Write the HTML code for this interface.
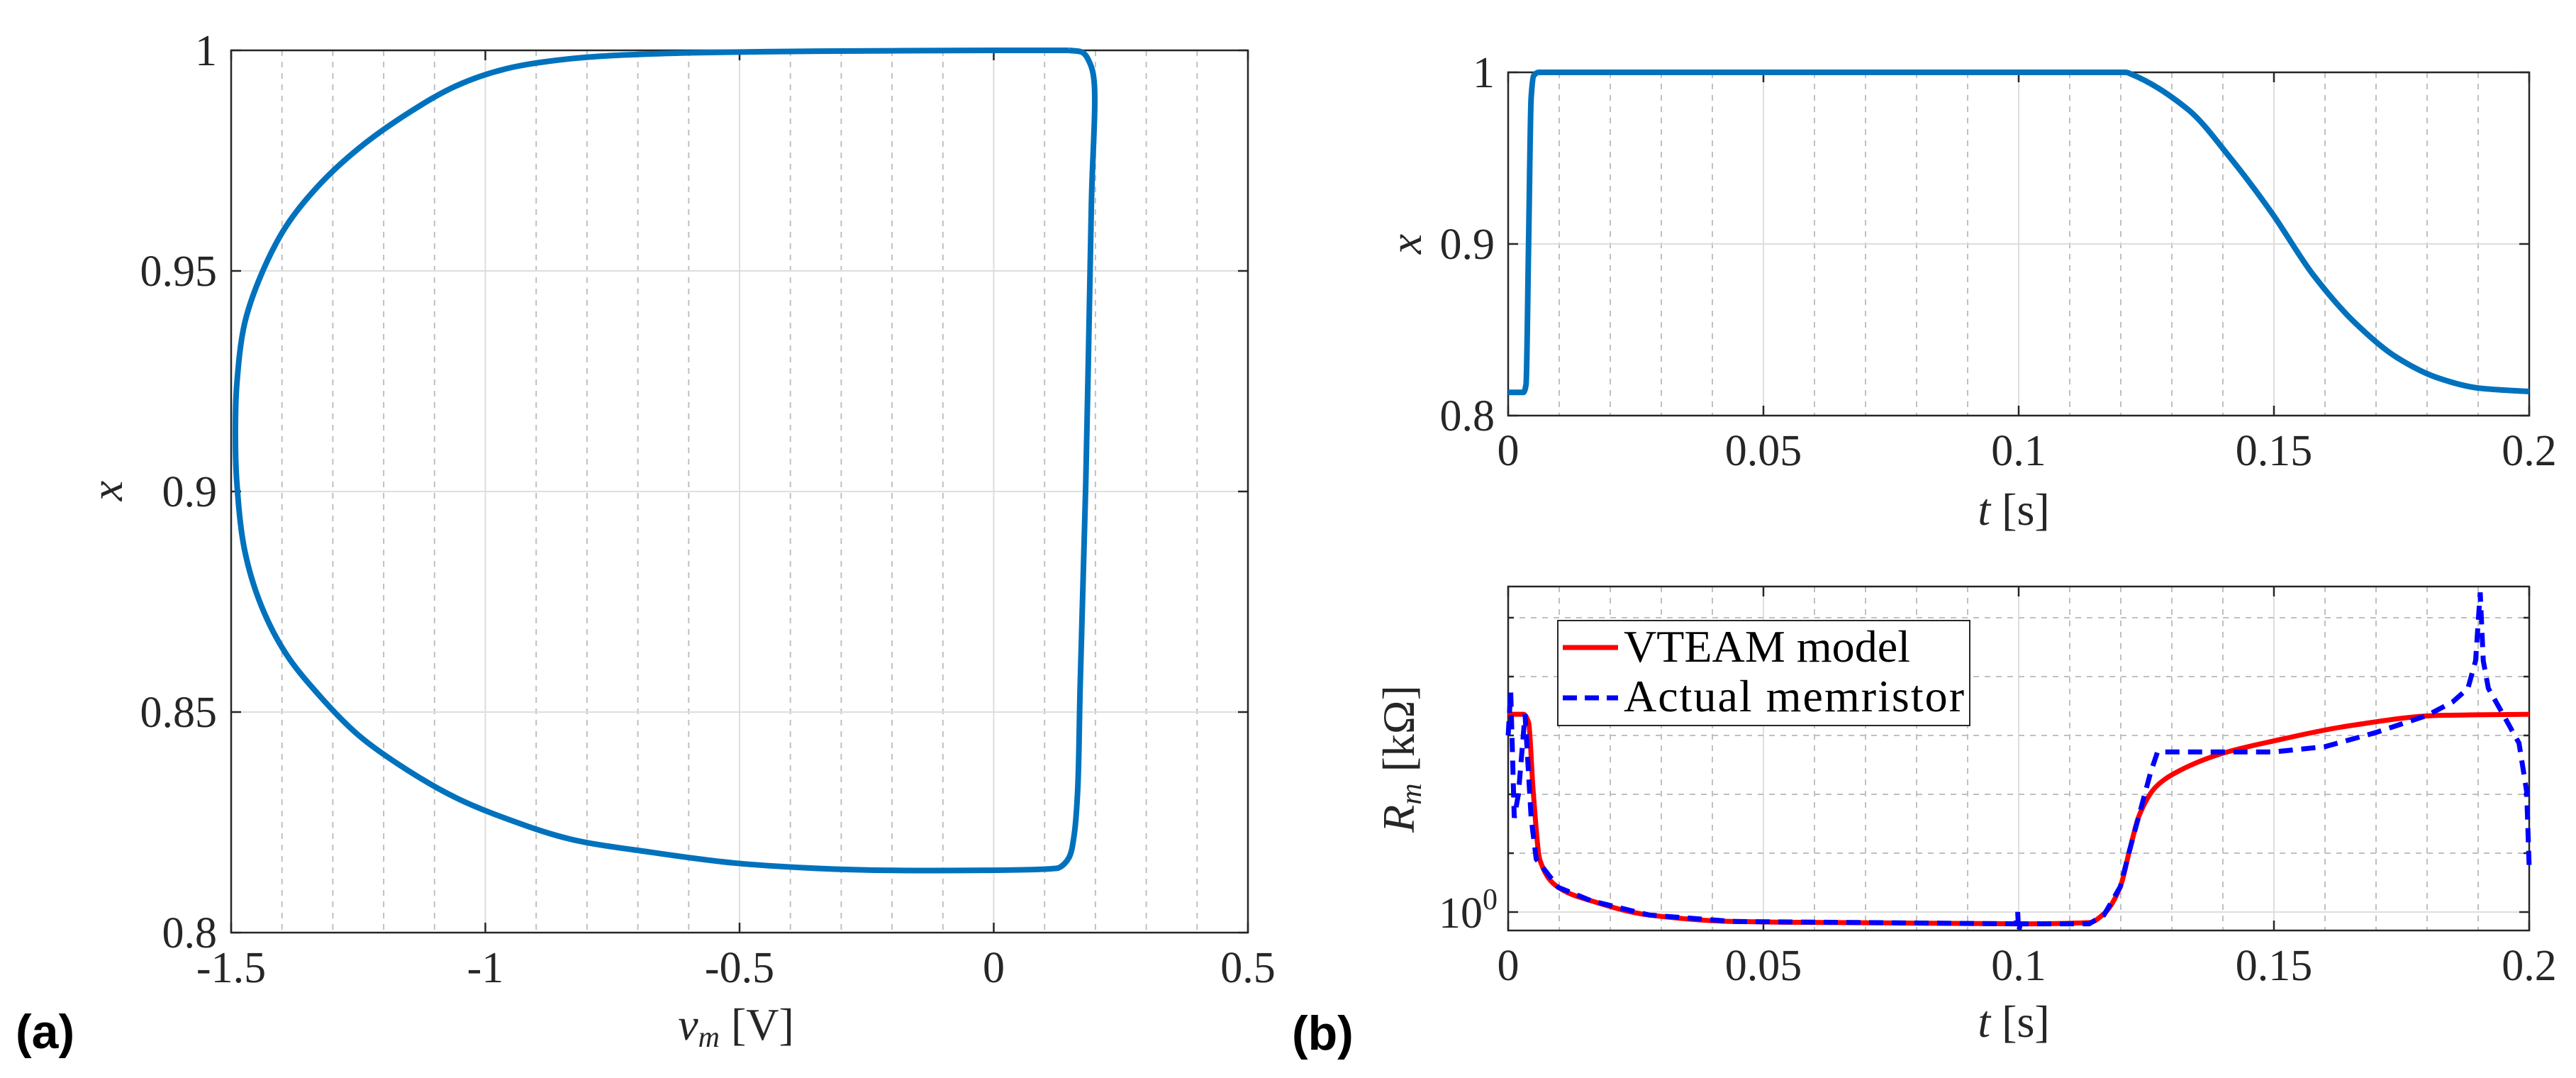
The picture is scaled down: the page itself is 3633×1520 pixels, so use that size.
<!DOCTYPE html>
<html><head><meta charset="utf-8"><style>
html,body{margin:0;padding:0;background:#fff}
svg{display:block}
text{font-family:"Liberation Serif",serif;fill:#262626}
</style></head><body>
<svg id="fig" width="3633" height="1520" viewBox="0 0 3633 1520" xmlns="http://www.w3.org/2000/svg">
<g id="pa"></g>
<g id="pb1"></g>
<g id="pb2"></g>
<text x="22" y="1478" style="font-family:'Liberation Sans',sans-serif;font-weight:bold;font-size:68px;fill:#000">(a)</text>
<text x="1822" y="1480" style="font-family:'Liberation Sans',sans-serif;font-weight:bold;font-size:68px;fill:#000">(b)</text>
</svg>
<script>
// Panel (a): x vs v_m
const loopV = [0.148,0.175,0.188,0.197,0.192,0.181,0.170,0.165,0.158,0.148,0.130,0.115,-0.1931,-0.3535,-0.5125,-0.6729,-0.8333,-0.9603,-1.0565,-1.1527,-1.2490,-1.3285,-1.3926,-1.4414,-1.4735,-1.489,-1.4916,-1.489,-1.4735,-1.4414,-1.3926,-1.3285,-1.2490,-1.1527,-1.0565,-0.9603,-0.8333,-0.6729,-0.45,-0.2,0.0,0.148];
const loopX = [1.0,0.9995,0.9974,0.9935,0.965,0.902,0.856,0.832,0.822,0.817,0.8148,0.8145,0.8141,0.8146,0.8158,0.8182,0.8212,0.8259,0.8305,0.8368,0.8447,0.8540,0.8633,0.8743,0.8867,0.9023,0.9132,0.9241,0.9381,0.9490,0.9600,0.9693,0.9778,0.9857,0.9920,0.9958,0.9981,0.9992,0.9997,0.9999,1.0,1.0];
const aXTicks = [-1.5,-1,-0.5,0,0.5];
const aXTickLabels = ["-1.5","-1","-0.5","0","0.5"];
const aYTicks = [0.8,0.85,0.9,0.95,1];
const aYTickLabels = ["0.8","0.85","0.9","0.95","1"];
// Panel (b) top: x vs t
const topT = [0,0.003,0.0035,0.004,0.0045,0.005,0.006,0.010,0.121,0.122,0.1333,0.1415,0.1496,0.1577,0.1659,0.174,0.1821,0.1902,0.2];
const topX = [0.8135,0.8135,0.818,0.90,0.985,0.998,1.0,1.0,1.0,0.999,0.978,0.950,0.918,0.882,0.854,0.834,0.822,0.816,0.814];
const bXTicks = [0,0.05,0.1,0.15,0.2];
const bXTickLabels = ["0","0.05","0.1","0.15","0.2"];
const topYTicks = [0.8,0.9,1];
const topYTickLabels = ["0.8","0.9","1"];
// Panel (b) bottom: log10(R_m) vs t
const redT = [0,0.003,0.004,0.0049,0.0062,0.0098,0.0163,0.0276,0.044,0.1008,0.1138,0.1167,0.1199,0.1217,0.1236,0.1268,0.1306,0.1397,0.1496,0.1659,0.1821,0.2];
const redL = [0.336,0.336,0.322,0.205,0.089,0.042,0.019,-0.005,-0.016,-0.020,-0.018,-0.003,0.043,0.104,0.164,0.212,0.236,0.269,0.290,0.318,0.334,0.336];
const blueT = [0,0.0005,0.0012,0.002,0.0033,0.0045,0.0055,0.0098,0.0163,0.0276,0.044,0.0995,0.0998,0.1,0.1003,0.1138,0.1167,0.1199,0.1217,0.1245,0.1258,0.1272,0.1296,0.15,0.16,0.17,0.18,0.185,0.188,0.1895,0.1904,0.191,0.192,0.195,0.198,0.1995,0.2];
const blueL = [0.30,0.375,0.16,0.20,0.336,0.16,0.09,0.042,0.019,-0.005,-0.016,-0.020,0.0,-0.034,-0.020,-0.020,-0.005,0.043,0.104,0.194,0.236,0.272,0.272,0.272,0.281,0.305,0.334,0.357,0.38,0.427,0.543,0.427,0.38,0.334,0.287,0.205,0.075];
const botYTicks = [0];
const botYMinor = [0.1,0.2,0.3,0.4,0.5];
const legendLabels = ["VTEAM model","Actual memristor"];

const NS="http://www.w3.org/2000/svg";
function mk(parent,tag,attrs){const e=document.createElementNS(NS,tag);for(const k in attrs)e.setAttribute(k,attrs[k]);parent.appendChild(e);return e;}
function lin(d0,d1,p0,p1){return v=>p0+(v-d0)*(p1-p0)/(d1-d0);}
function f(n){return n.toFixed(1);}
function pathD(xs,ys,sx,sy){return xs.map((v,i)=>(i?'L':'M')+f(sx(v))+' '+f(sy(ys[i]))).join(' ');}
// centripetal Catmull-Rom (for param curves)
function centripetalD(xs,ys,sx,sy){
  const P=xs.map((v,i)=>[sx(v),sy(ys[i])]);
  const dist=(a,b)=>Math.max(1e-3,Math.pow(Math.hypot(b[0]-a[0],b[1]-a[1]),0.5));
  let d='M'+f(P[0][0])+' '+f(P[0][1]);
  for(let i=0;i<P.length-1;i++){
    const p0=P[Math.max(0,i-1)],p1=P[i],p2=P[i+1],p3=P[Math.min(P.length-1,i+2)];
    let d1=dist(p0,p1),d2=dist(p1,p2),d3=dist(p2,p3);
    if(i===0){d1=d2;}
    if(i===P.length-2){d3=d2;}
    const c1=[0,1].map(k=>(d1*d1*p2[k]-d2*d2*p0[k]+(2*d1*d1+3*d1*d2+d2*d2)*p1[k])/(3*d1*(d1+d2)));
    const c2=[0,1].map(k=>(d3*d3*p1[k]-d2*d2*p3[k]+(2*d3*d3+3*d3*d2+d2*d2)*p2[k])/(3*d3*(d3+d2)));
    if(i===0){c1[0]=p1[0]+(p2[0]-p1[0])/3;c1[1]=p1[1]+(p2[1]-p1[1])/3;}
    if(i===P.length-2){c2[0]=p2[0]-(p2[0]-p1[0])/3;c2[1]=p2[1]-(p2[1]-p1[1])/3;}
    d+=' C'+f(c1[0])+' '+f(c1[1])+' '+f(c2[0])+' '+f(c2[1])+' '+f(p2[0])+' '+f(p2[1]);
  }
  return d;
}
// monotone cubic (functions of t)
function monoD(xs,ys,sx,sy){
  const X=xs.map(sx),Y=ys.map(sy),n=X.length;
  const h=[],m=[];
  for(let i=0;i<n-1;i++){h.push(X[i+1]-X[i]);m.push((Y[i+1]-Y[i])/(X[i+1]-X[i]));}
  const t=new Array(n);
  t[0]=m[0];t[n-1]=m[n-2];
  for(let i=1;i<n-1;i++){
    if(m[i-1]*m[i]<=0)t[i]=0;
    else{const w1=2*h[i]+h[i-1],w2=h[i]+2*h[i-1];t[i]=(w1+w2)/(w1/m[i-1]+w2/m[i]);}
  }
  let d='M'+f(X[0])+' '+f(Y[0]);
  for(let i=0;i<n-1;i++){
    d+=' C'+f(X[i]+h[i]/3)+' '+f(Y[i]+t[i]*h[i]/3)+' '+f(X[i+1]-h[i]/3)+' '+f(Y[i+1]-t[i+1]*h[i]/3)+' '+f(X[i+1])+' '+f(Y[i+1]);
  }
  return d;
}

function axesFrame(g,L,T,R,B){
  const r=mk(g,'rect',{x:L,y:T,width:R-L,height:B-T,fill:'none',stroke:'#262626','stroke-width':2.5});
  
  
}
function vgrid(g,x,T,B,dash,name){
  const l=mk(g,'line',{x1:x,x2:x,y1:T,y2:B,stroke:dash?'#c0c0c0':'#dedede','stroke-width':2,'stroke-dasharray':dash?'8 8':'none'});
  
  
}
function hgrid(g,y,L,R,dash,name){
  const l=mk(g,'line',{x1:L,x2:R,y1:y,y2:y,stroke:dash?'#c0c0c0':'#dedede','stroke-width':2,'stroke-dasharray':dash?'8 8':'none'});
  
  
}
function tickMark(g,x1,y1,x2,y2){
  const l=mk(g,'line',{x1,y1,x2,y2,stroke:'#262626','stroke-width':2.5});
  
  
}
function label(g,x,y,txt,anchor,size,name){
  const t=mk(g,'text',{x,y,'text-anchor':anchor,'font-size':size});
  t.textContent=txt;
  
  
  return t;
}

// ---------- Panel a ----------
(function(){
  const g=document.getElementById('pa');
  const L=326,R=1760,T=71,B=1315;
  const sx=lin(-1.5,0.5,L,R), sy=lin(0.8,1,B,T);
  for(let k=-14;k<=4;k++){const v=k/10; if(k%5===0)continue; vgrid(g,sx(v),T,B,true,'minor-grid-x');}
  [-1,-0.5,0].forEach(v=>vgrid(g,sx(v),T,B,false,'major-grid-x'));
  [0.85,0.9,0.95].forEach(v=>hgrid(g,sy(v),L,R,false,'major-grid-y'));
  axesFrame(g,L,T,R,B);
  aXTicks.forEach((v,i)=>{tickMark(g,sx(v),B,sx(v),B-14);tickMark(g,sx(v),T,sx(v),T+14);
    label(g,sx(v),1385,aXTickLabels[i],'middle',62,'x-tick-label');});
  aYTicks.forEach((v,i)=>{tickMark(g,L,sy(v),L+14,sy(v));tickMark(g,R,sy(v),R-14,sy(v));
    label(g,306,sy(v)+21,aYTickLabels[i],'end',62,'y-tick-label');});
  const p=mk(g,'path',{d:centripetalD(loopV,loopX,sx,sy),fill:'none',stroke:'#0072BD','stroke-width':8,'stroke-linejoin':'round'});
  
  
  const yl=label(g,0,0,'x','middle',64,'y-axis-title');yl.setAttribute('font-style','italic');
  yl.setAttribute('transform','translate(172,692) rotate(-90)');
  const xt=label(g,1038,1466,'','middle',64,'x-axis-title');
  xt.innerHTML='<tspan font-style="italic">v</tspan><tspan font-style="italic" font-size="42" dy="10">m</tspan><tspan dy="-10"> [V]</tspan>';
})();

// ---------- Panel b top ----------
(function(){
  const g=document.getElementById('pb1');
  const L=2127,R=3567,T=102,B=586;
  const sx=lin(0,0.2,L,R), sy=lin(0.8,1,B,T);
  for(let k=1;k<20;k++){if(k%5===0)continue; vgrid(g,sx(k/100),T,B,true,'minor-grid-x');}
  [0.05,0.1,0.15].forEach(v=>vgrid(g,sx(v),T,B,false,'major-grid-x'));
  hgrid(g,sy(0.9),L,R,false,'major-grid-y');
  axesFrame(g,L,T,R,B);
  bXTicks.forEach((v,i)=>{tickMark(g,sx(v),B,sx(v),B-14);tickMark(g,sx(v),T,sx(v),T+14);
    label(g,sx(v),656,bXTickLabels[i],'middle',62,'x-tick-label');});
  topYTicks.forEach((v,i)=>{tickMark(g,L,sy(v),L+14,sy(v));tickMark(g,R,sy(v),R-14,sy(v));
    label(g,2108,sy(v)+21,topYTickLabels[i],'end',62,'y-tick-label');});
  const p=mk(g,'path',{d:monoD(topT,topX,sx,sy),fill:'none',stroke:'#0072BD','stroke-width':8,'stroke-linejoin':'round'});
  
  
  const yl=label(g,0,0,'x','middle',64,'y-axis-title');yl.setAttribute('font-style','italic');
  yl.setAttribute('transform','translate(2004,344) rotate(-90)');
  const xt=label(g,2840,740,'','middle',64,'x-axis-title');
  xt.innerHTML='<tspan font-style="italic">t</tspan><tspan> [s]</tspan>';
})();

// ---------- Panel b bottom ----------
(function(){
  const g=document.getElementById('pb2');
  const L=2127,R=3567,T=827,B=1312;
  const sx=lin(0,0.2,L,R), sy=v=>1286-(v)*830;
  for(let k=1;k<20;k++){if(k%5===0)continue; vgrid(g,sx(k/100),T,B,true,'minor-grid-x');}
  [0.05,0.1,0.15].forEach(v=>vgrid(g,sx(v),T,B,false,'major-grid-x'));
  botYMinor.forEach(v=>hgrid(g,sy(v),L,R,true,'minor-grid-y'));
  botYTicks.forEach(v=>hgrid(g,sy(v),L,R,false,'major-grid-y'));
  axesFrame(g,L,T,R,B);
  bXTicks.forEach((v,i)=>{tickMark(g,sx(v),B,sx(v),B-14);tickMark(g,sx(v),T,sx(v),T+14);
    label(g,sx(v),1382,bXTickLabels[i],'middle',62,'x-tick-label');});
  botYMinor.forEach(v=>{tickMark(g,L,sy(v),L+8,sy(v));tickMark(g,R,sy(v),R-8,sy(v));});
  botYTicks.forEach(v=>{tickMark(g,L,sy(v),L+14,sy(v));tickMark(g,R,sy(v),R-14,sy(v));
    const t=label(g,2112,sy(v)+22,'','end',62,'y-tick-label');
    t.innerHTML='10<tspan font-size="42" dy="-26">0</tspan>';});
  const red=mk(g,'path',{d:monoD(redT,redL,sx,sy),fill:'none',stroke:'#ff0000','stroke-width':7,'stroke-linejoin':'round'});
  
  
  const blue=mk(g,'path',{d:pathD(blueT,blueL,sx,sy),fill:'none',stroke:'#0000ff','stroke-width':7,'stroke-dasharray':'20 12'});
  
  
  // legend
  const lg=mk(g,'g',{});
  
  
  const box=mk(lg,'rect',{x:2197,y:875,width:581,height:148,fill:'#fff',stroke:'#262626','stroke-width':2});
  
  
  const l1=mk(lg,'line',{x1:2204,x2:2282,y1:913,y2:913,stroke:'#ff0000','stroke-width':7});
  
  
  const l2=mk(lg,'line',{x1:2204,x2:2282,y1:984,y2:984,stroke:'#0000ff','stroke-width':7,'stroke-dasharray':'20 11'});
  
  
  const t1=label(lg,2290,933,legendLabels[0],'start',64,'legend-entry-vteam');t1.style.fill='#000';t1.setAttribute('textLength','404');
  const t2=label(lg,2290,1003,legendLabels[1],'start',64,'legend-entry-actual');t2.style.fill='#000';t2.setAttribute('textLength','480');
  const yl=label(g,0,0,'','middle',64,'y-axis-title');
  yl.innerHTML='<tspan font-style="italic">R</tspan><tspan font-style="italic" font-size="42" dy="10">m</tspan><tspan dy="-10">  [kΩ]</tspan>';
  yl.setAttribute('transform','translate(1994,1070) rotate(-90)');
  const xt=label(g,2840,1462,'','middle',64,'x-axis-title');
  xt.innerHTML='<tspan font-style="italic">t</tspan><tspan> [s]</tspan>';
})();
</script>
</body></html>
